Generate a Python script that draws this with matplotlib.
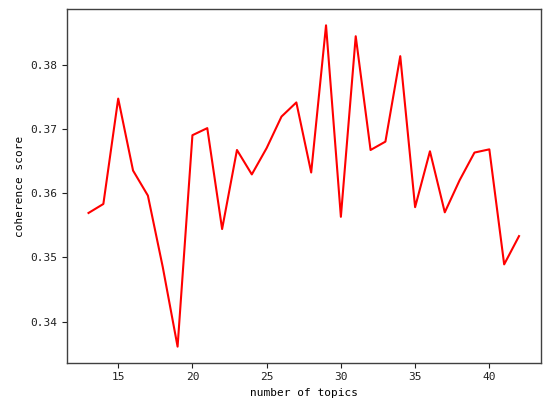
import matplotlib
matplotlib.use('Agg')
import matplotlib.pyplot as plt

# number of topics vs coherence score
topics = list(range(13, 43))
coherence = [0.3569, 0.3583, 0.3747, 0.3635, 0.3596, 0.3485, 0.3361, 0.3690,
             0.3701, 0.3544, 0.3667, 0.3629, 0.3670, 0.3719, 0.3741, 0.3632,
             0.3861, 0.3563, 0.3844, 0.3667, 0.3680, 0.3813, 0.3578, 0.3665,
             0.3570, 0.3620, 0.3663, 0.3668, 0.3489, 0.3533]

plt.rcParams['font.family'] = ['DejaVu Sans Mono']
plt.rcParams['font.size'] = 8

fig = plt.figure(figsize=(5.5, 4.11), dpi=100)
ax = fig.add_axes([0.1218, 0.1175, 0.861, 0.86])
ax.plot(topics, coherence, color='red', linewidth=1.5)

ax.set_xlabel('number of topics', fontsize=8)
ax.set_ylabel('coherence score', fontsize=8)
ax.set_yticks([0.34, 0.35, 0.36, 0.37, 0.38])
ax.set_xticks([15, 20, 25, 30, 35, 40])
for s in ax.spines.values():
    s.set_color('#404040')
    s.set_linewidth(1.0)
ax.tick_params(colors='#202020', length=3.5, width=0.8, labelsize=8)

fig.savefig('out.png', dpi=100)
